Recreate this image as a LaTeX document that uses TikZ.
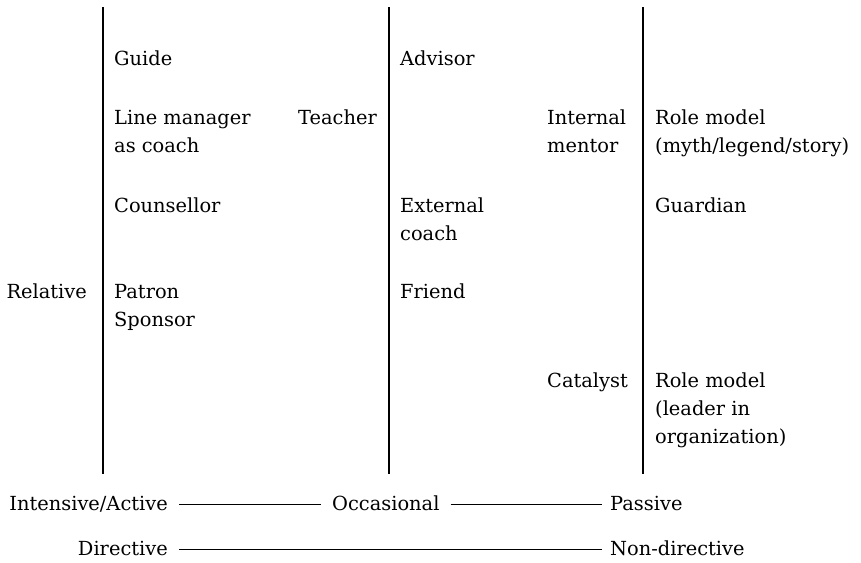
\documentclass[tikz,border=0pt]{standalone}
\usepackage{fontspec}
\setmainfont{DejaVu Serif}
\usetikzlibrary{positioning}

\begin{document}
\begin{tikzpicture}[x=1pt, y=-1pt,
    lbl/.style={anchor=base west, align=left, inner sep=0pt,
      font=\fontsize{19.4}{28}\selectfont},
    lblr/.style={lbl, anchor=base east, align=right},
    divider/.style={line width=1.3pt},
    scaleline/.style={line width=1pt}]
  \useasboundingbox (0,0) rectangle (861,562);

  % column dividers
  \coordinate (d1top) at (103,7);
  \coordinate (d1bot) at (103,474);
  \coordinate (d2top) at (389,7);
  \coordinate (d2bot) at (389,474);
  \coordinate (d3top) at (643,7);
  \coordinate (d3bot) at (643,474);
  \draw[divider] (d1top) -- (d1bot);
  \draw[divider] (d2top) -- (d2bot);
  \draw[divider] (d3top) -- (d3bot);

  % first column (multi-line nodes sit on their last baseline)
  \node[lblr] (relative) at (87,298) {Relative};
  \node[lbl] (guide) at (114,65) {Guide};
  \node[lbl] (linemgr) at (114,152) {Line manager\\as coach};
  \node[lblr] (teacher) at (377,124) {Teacher};
  \node[lbl] (counsellor) at (114,212) {Counsellor};
  \node[lbl] (patron) at (114,326) {Patron\\Sponsor};

  % second column
  \node[lbl] (advisor) at (400,65) {Advisor};
  \node[lbl] (extcoach) at (400,240) {External\\coach};
  \node[lbl] (friend) at (400,298) {Friend};
  \node[lbl] (intmentor) at (547,152) {Internal\\mentor};
  \node[lbl] (catalyst) at (547,387) {Catalyst};

  % third column
  \node[lbl] (rolemyth) at (655,152) {Role model\\(myth/legend/story)};
  \node[lbl] (guardian) at (655,212) {Guardian};
  \node[lbl] (roleleader) at (655,443) {Role model\\(leader in\\organization)};

  % scales underneath
  \node[lblr] (intensive) at (168,510) {Intensive/Active};
  \node[lbl] (occasional) at (332,510) {Occasional};
  \node[lbl] (passive) at (610,510) {Passive};
  \node[lblr] (directive) at (168,555) {Directive};
  \node[lbl] (nondirective) at (610,555) {Non-directive};

  \draw[scaleline] ([shift={(11,-5.5)}]intensive.base east)
    -- ([shift={(-11,-5.5)}]occasional.base west);
  \draw[scaleline] ([shift={(11,-5.5)}]occasional.base east)
    -- ([shift={(-8,-5.5)}]passive.base west);
  \draw[scaleline] ([shift={(11,-5.5)}]directive.base east)
    -- ([shift={(-8,-5.5)}]nondirective.base west);
\end{tikzpicture}
\end{document}
